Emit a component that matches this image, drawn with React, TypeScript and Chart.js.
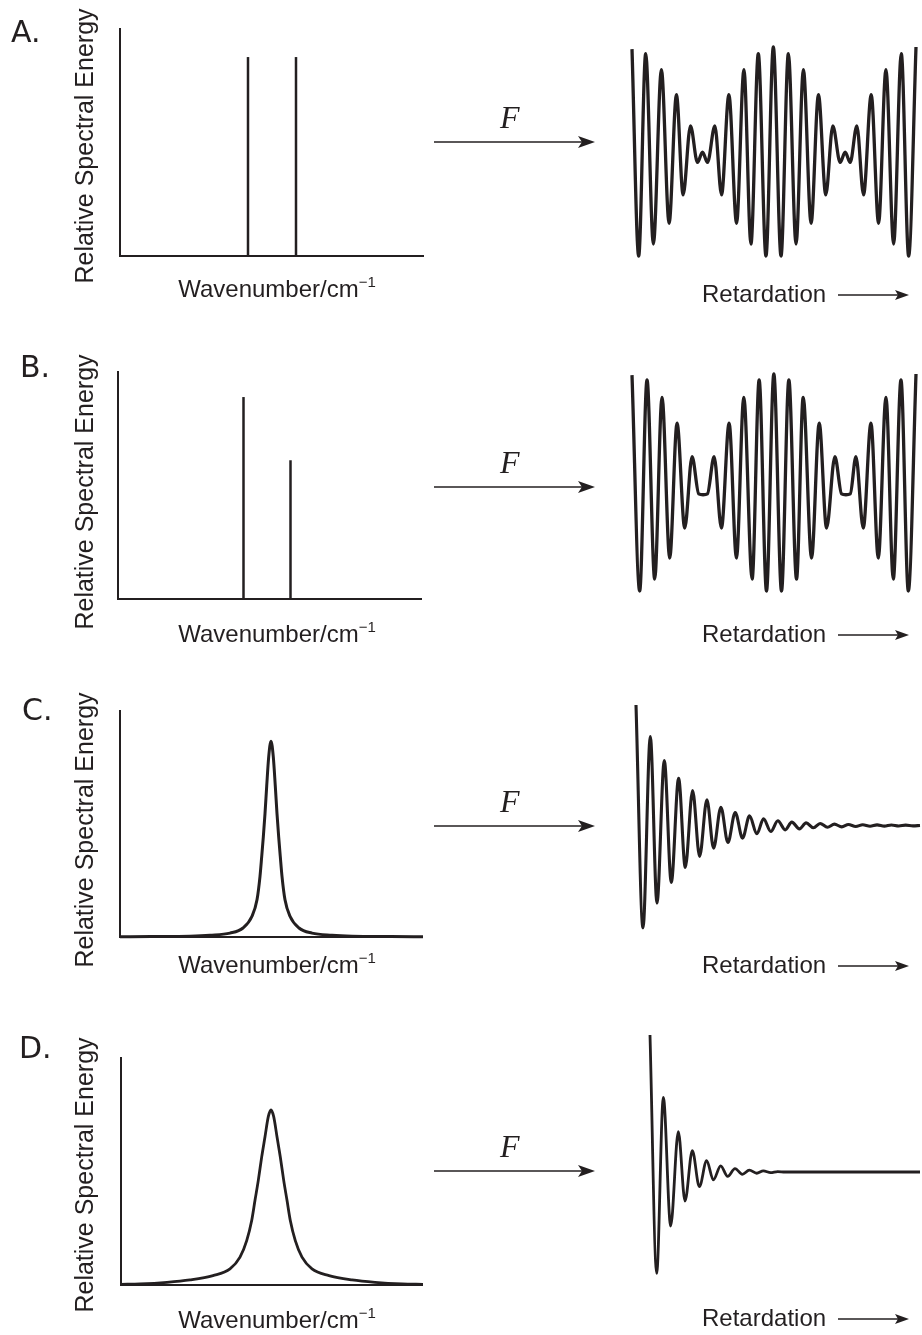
import React, { useEffect, useRef } from "react";
import { Chart, registerables } from "chart.js";

Chart.register(...registerables);

const INK = "#231f20";
const PAD = 6;

// ---------------- Spectra (left column) ----------------
// wavenumber axis in arbitrary units, 0 .. axis end
const specAxisEndA = 304;
const specAxisEndB = 304;
const specAxisEndC = 303;
const specAxisEndD = 302;

// A: two equal lines
const specALinePos = [128, 176];
const specALineHeight = [1.0, 1.0];
const specAYMax = 1.146;

// B: two unequal lines
const specBLinePos = [125.5, 172.5];
const specBLineHeight = [1.0, 0.687];
const specBYMax = 1.129;

// C: narrow band
const specCWavenumber = [
  0, 31, 70, 90, 110, 123, 132, 137, 140, 141.7, 143.3, 145, 146.7, 148.7, 151,
  153.3, 155.3, 157, 158.7, 160.3, 162, 165, 170, 179, 192, 212, 232, 271, 303,
];
const specCEnergy = [
  0.001, 0.002, 0.004, 0.009, 0.02, 0.046, 0.106, 0.19, 0.31, 0.41, 0.51, 0.63, 0.77, 0.92, 1.0,
  0.92, 0.77, 0.63, 0.51, 0.41, 0.31, 0.19, 0.106, 0.046, 0.02, 0.009, 0.004, 0.002, 0.001,
];
const specCYMax = 1.159;

// D: broad band
const specDWavenumber = [
  0, 19, 46, 69, 92, 109, 119, 125.7, 130.7, 134, 137.3, 140.7, 144, 147.3, 150,
  152.7, 156, 159.3, 162.7, 166, 169.3, 174.3, 181, 191, 208, 231, 254, 281, 302,
];
const specDEnergy = [
  0.004, 0.006, 0.015, 0.029, 0.054, 0.092, 0.159, 0.254, 0.369, 0.484, 0.598, 0.732, 0.847, 0.962, 1.0,
  0.962, 0.847, 0.732, 0.598, 0.484, 0.369, 0.254, 0.159, 0.092, 0.054, 0.029, 0.015, 0.006, 0.004,
];
const specDYMax = 1.303;

// ---------------- Interferograms (right column) ----------------
// extrema (retardation in arbitrary units)
const igmARetardation = [
  0, 20, 41, 64, 88, 111, 133, 153, 175, 196, 211, 226, 248, 268, 290, 313, 335, 356, 378, 401, 423,
  446, 468, 491, 513, 536, 558, 580, 601, 623, 638, 653, 673, 693, 716, 738, 760, 783, 806, 828, 850,
];
const igmAIntensity = [
  0.98, -1.0, 0.936, -0.885, 0.783, -0.687, 0.543, -0.415, 0.246, -0.105, -0.006, -0.105, 0.246, -0.415,
  0.543, -0.687, 0.783, -0.885, 0.936, -1.0, 1.0, -1.0, 0.936, -0.885, 0.783, -0.687, 0.543, -0.415,
  0.246, -0.105, -0.006, -0.105, 0.246, -0.415, 0.543, -0.687, 0.783, -0.885, 0.936, -1.0, 1.0,
];
const igmAEnd = 850;

const igmBRetardation = [
  0, 23, 45, 68, 90, 113, 135, 158, 180, 200, 213, 226, 246, 268, 291, 313, 335, 360, 381, 403, 425,
  448, 470, 493, 513, 538, 561, 583, 608, 628, 641, 654, 671, 693, 716, 738, 761, 783, 806, 828, 851,
];
const igmBIntensity = [
  0.99, -1.0, 0.945, -0.89, 0.785, -0.696, 0.546, -0.42, 0.239, -0.105, -0.113, -0.105, 0.239, -0.42,
  0.546, -0.696, 0.785, -0.89, 0.945, -1.0, 1.0, -1.0, 0.945, -0.89, 0.785, -0.696, 0.546, -0.42,
  0.239, -0.105, -0.113, -0.105, 0.239, -0.42, 0.546, -0.696, 0.785, -0.89, 0.945, -1.0, 1.0,
];
const igmBEnd = 851;

const igmCRetardation = [
  0, 21, 43, 63, 85, 106, 128, 148, 170, 191, 213, 233, 255, 276, 298, 320, 341, 363, 383, 405, 426,
  448, 468, 491, 511, 533, 553, 575, 596, 618, 638, 660, 681, 703, 724, 746, 767, 789, 810, 832, 853,
];
const igmCIntensity = [
  1.0, -0.85, 0.738, -0.644, 0.539, -0.472, 0.392, -0.348, 0.29, -0.257, 0.213, -0.188, 0.152, -0.141,
  0.108, -0.105, 0.08, -0.069, 0.055, -0.05, 0.039, -0.036, 0.028, -0.028, 0.022, -0.019, 0.017, -0.014,
  0.011, -0.011, 0.008, -0.008, 0.006, -0.006, 0.005, -0.005, 0.004, -0.004, 0.003, -0.003, 0.0,
];
const igmCEnd = 853;

const igmDRetardation = [0, 20, 40, 62, 85, 105, 127, 148, 170, 190, 212, 233, 255, 277, 298, 320, 340, 362, 383, 405, 810];
const igmDIntensity = [
  1.0, -0.74, 0.545, -0.394, 0.294, -0.212, 0.156, -0.107, 0.083, -0.058, 0.045, -0.032, 0.025, -0.017,
  0.014, -0.009, 0.008, -0.005, 0.003, 0.0, 0.0,
];
const igmDEnd = 810;

// ---------------- helpers ----------------
type Rect = { left: number; top: number; width: number; height: number };

const lAxesPlugin = {
  id: "lAxes",
  beforeDatasetsDraw(chart: any) {
    const { ctx } = chart;
    const xs = chart.scales.x;
    const ys = chart.scales.y;
    const x0 = xs.getPixelForValue(xs.min);
    const x1 = xs.getPixelForValue(xs.max);
    const y0 = ys.getPixelForValue(ys.min);
    const y1 = ys.getPixelForValue(ys.max);
    ctx.save();
    ctx.strokeStyle = INK;
    ctx.lineWidth = 2;
    ctx.beginPath();
    ctx.moveTo(x0, y1);
    ctx.lineTo(x0, y0);
    ctx.lineTo(x1, y0);
    ctx.stroke();
    ctx.restore();
  },
};

function toPoints(xs: number[], ys: number[]) {
  return xs.map((x, i) => ({ x, y: ys[i] }));
}

function baseOptions(xMax: number, yMin: number, yMax: number) {
  return {
    responsive: false,
    animation: false,
    devicePixelRatio: 1,
    layout: { padding: PAD },
    plugins: { legend: { display: false }, tooltip: { enabled: false }, title: { display: false } },
    elements: { point: { radius: 0 } },
    scales: {
      x: { type: "linear", display: false, min: 0, max: xMax },
      y: { type: "linear", display: false, min: yMin, max: yMax },
    },
  };
}

function lineSpectrum(pos: number[], heights: number[], xMax: number, yMax: number) {
  return {
    type: "line",
    data: {
      datasets: pos.map((x, i) => ({
        data: [
          { x, y: 0 },
          { x, y: heights[i] },
        ],
        borderColor: INK,
        borderWidth: 2.5,
        pointRadius: 0,
        clip: false,
      })),
    },
    options: baseOptions(xMax, 0, yMax),
    plugins: [lAxesPlugin],
  };
}

function bandSpectrum(xs: number[], ys: number[], xMax: number, yMax: number, width: number) {
  return {
    type: "line",
    data: {
      datasets: [
        {
          data: toPoints(xs, ys),
          borderColor: INK,
          borderWidth: width,
          pointRadius: 0,
          cubicInterpolationMode: "monotone",
          clip: false,
        },
      ],
    },
    options: baseOptions(xMax, 0, yMax),
    plugins: [lAxesPlugin],
  };
}

function interferogram(xs: number[], ys: number[], xMax: number, width: number) {
  return {
    type: "line",
    data: {
      datasets: [
        {
          data: toPoints(xs, ys),
          borderColor: INK,
          borderWidth: width,
          pointRadius: 0,
          cubicInterpolationMode: "monotone",
          clip: false,
        },
      ],
    },
    options: baseOptions(xMax, -1, 1),
  };
}

function ChartBox({ rect, config }: { rect: Rect; config: any }) {
  const ref = useRef<HTMLCanvasElement>(null);
  useEffect(() => {
    const chart = new Chart(ref.current as HTMLCanvasElement, config);
    return () => chart.destroy();
  }, []);
  const w = rect.width + 2 * PAD;
  const h = rect.height + 2 * PAD;
  return (
    <canvas
      ref={ref}
      width={w}
      height={h}
      style={{ position: "absolute", left: rect.left - PAD, top: rect.top - PAD, width: w, height: h }}
    />
  );
}

const SANS = "'Liberation Sans', Arial, Helvetica, sans-serif";

function PanelLetter({ text, left, baseline }: { text: string; left: number; baseline: number }) {
  const size = 30;
  return (
    <div
      style={{
        position: "absolute",
        left,
        top: baseline - 0.846 * size,
        fontFamily: "'DejaVu Sans', Verdana, sans-serif",
        fontSize: size,
        lineHeight: `${size}px`,
        color: INK,
        whiteSpace: "nowrap",
      }}
    >
      {text}
    </div>
  );
}

function YLabel({ cx, cy }: { cx: number; cy: number }) {
  const size = 25;
  return (
    <div
      style={{
        position: "absolute",
        left: cx,
        top: cy,
        transform: "translate(-50%, -50%) rotate(-90deg)",
        fontFamily: SANS,
        fontSize: size,
        lineHeight: `${size}px`,
        color: INK,
        whiteSpace: "nowrap",
      }}
    >
      Relative Spectral Energy
    </div>
  );
}

function XLabel({ cx, baseline }: { cx: number; baseline: number }) {
  const size = 24;
  return (
    <div
      style={{
        position: "absolute",
        left: cx,
        top: baseline - 0.8465 * size,
        transform: "translateX(-50%)",
        fontFamily: SANS,
        fontSize: size,
        lineHeight: `${size}px`,
        color: INK,
        whiteSpace: "nowrap",
      }}
    >
      Wavenumber/cm
      <span style={{ fontSize: 15, position: "relative", top: -10 }}>−1</span>
    </div>
  );
}

function RetLabel({ left, baseline }: { left: number; baseline: number }) {
  const size = 24;
  return (
    <div
      style={{
        position: "absolute",
        left,
        top: baseline - 0.8465 * size,
        fontFamily: SANS,
        fontSize: size,
        lineHeight: `${size}px`,
        color: INK,
        whiteSpace: "nowrap",
      }}
    >
      Retardation
    </div>
  );
}

function FLabel({ left, baseline }: { left: number; baseline: number }) {
  const size = 32;
  return (
    <div
      style={{
        position: "absolute",
        left,
        top: baseline - 0.8375 * size,
        fontFamily: "'Liberation Serif', 'Times New Roman', serif",
        fontStyle: "italic",
        fontSize: size,
        lineHeight: `${size}px`,
        color: INK,
        whiteSpace: "nowrap",
      }}
    >
      F
    </div>
  );
}

// rows
const rowLetters = ["A.", "B.", "C.", "D."];
const letterLeft = [11, 20, 22, 19];
const letterBaseline = [42, 377, 720, 1058];
const yLabelCenter = [146, 492, 830, 1175];
const xLabelBaseline = [297, 642, 973, 1328];
const retBaseline = [302, 642, 973, 1326];
const fArrowY = [142, 487, 826, 1171];

const leftRects: Rect[] = [
  { left: 120, top: 28, width: 304, height: 228 },
  { left: 118, top: 371, width: 304, height: 228 },
  { left: 120, top: 710, width: 303, height: 227 },
  { left: 121, top: 1057, width: 302, height: 228 },
];
const rightRects: Rect[] = [
  { left: 632, top: 47, width: 284, height: 209 },
  { left: 632, top: 374, width: 284, height: 217 },
  { left: 636, top: 705, width: 284, height: 241 },
  { left: 650, top: 1035, width: 270, height: 274 },
];

const leftConfigs = [
  lineSpectrum(specALinePos, specALineHeight, specAxisEndA, specAYMax),
  lineSpectrum(specBLinePos, specBLineHeight, specAxisEndB, specBYMax),
  bandSpectrum(specCWavenumber, specCEnergy, specAxisEndC, specCYMax, 3),
  bandSpectrum(specDWavenumber, specDEnergy, specAxisEndD, specDYMax, 2.8),
];
const rightConfigs = [
  interferogram(igmARetardation, igmAIntensity, igmAEnd, 3.3),
  interferogram(igmBRetardation, igmBIntensity, igmBEnd, 3.3),
  interferogram(igmCRetardation, igmCIntensity, igmCEnd, 3.1),
  interferogram(igmDRetardation, igmDIntensity, igmDEnd, 2.8),
];

export default function App() {
  return (
    <div
      style={{
        position: "absolute",
        left: 0,
        top: 0,
        width: 922,
        height: 1335,
        overflow: "hidden",
        background: "#ffffff",
      }}
    >
      {leftRects.map((r, i) => (
        <ChartBox key={"l" + i} rect={r} config={leftConfigs[i]} />
      ))}
      {rightRects.map((r, i) => (
        <ChartBox key={"r" + i} rect={r} config={rightConfigs[i]} />
      ))}
      <svg width={922} height={1335} style={{ position: "absolute", left: 0, top: 0 }}>
        {fArrowY.map((y, i) => (
          <g key={"fa" + i}>
            <line x1={434} y1={y} x2={584} y2={y} stroke={INK} strokeWidth={1.6} />
            <path d={`M595,${y} L578,${y - 6} L582,${y} L578,${y + 6} Z`} fill={INK} />
          </g>
        ))}
        {retBaseline.map((b, i) => {
          const y = b - 7;
          return (
            <g key={"ra" + i}>
              <line x1={838} y1={y} x2={900} y2={y} stroke={INK} strokeWidth={1.4} />
              <path d={`M909,${y} L895,${y - 5} L898,${y} L895,${y + 5} Z`} fill={INK} />
            </g>
          );
        })}
      </svg>
      {rowLetters.map((t, i) => (
        <PanelLetter key={"pl" + i} text={t} left={letterLeft[i]} baseline={letterBaseline[i]} />
      ))}
      {yLabelCenter.map((c, i) => (
        <YLabel key={"yl" + i} cx={84} cy={c} />
      ))}
      {xLabelBaseline.map((b, i) => (
        <XLabel key={"xl" + i} cx={277} baseline={b} />
      ))}
      {retBaseline.map((b, i) => (
        <RetLabel key={"rl" + i} left={702} baseline={b} />
      ))}
      {fArrowY.map((y, i) => (
        <FLabel key={"fl" + i} left={500} baseline={y - 14} />
      ))}
    </div>
  );
}
